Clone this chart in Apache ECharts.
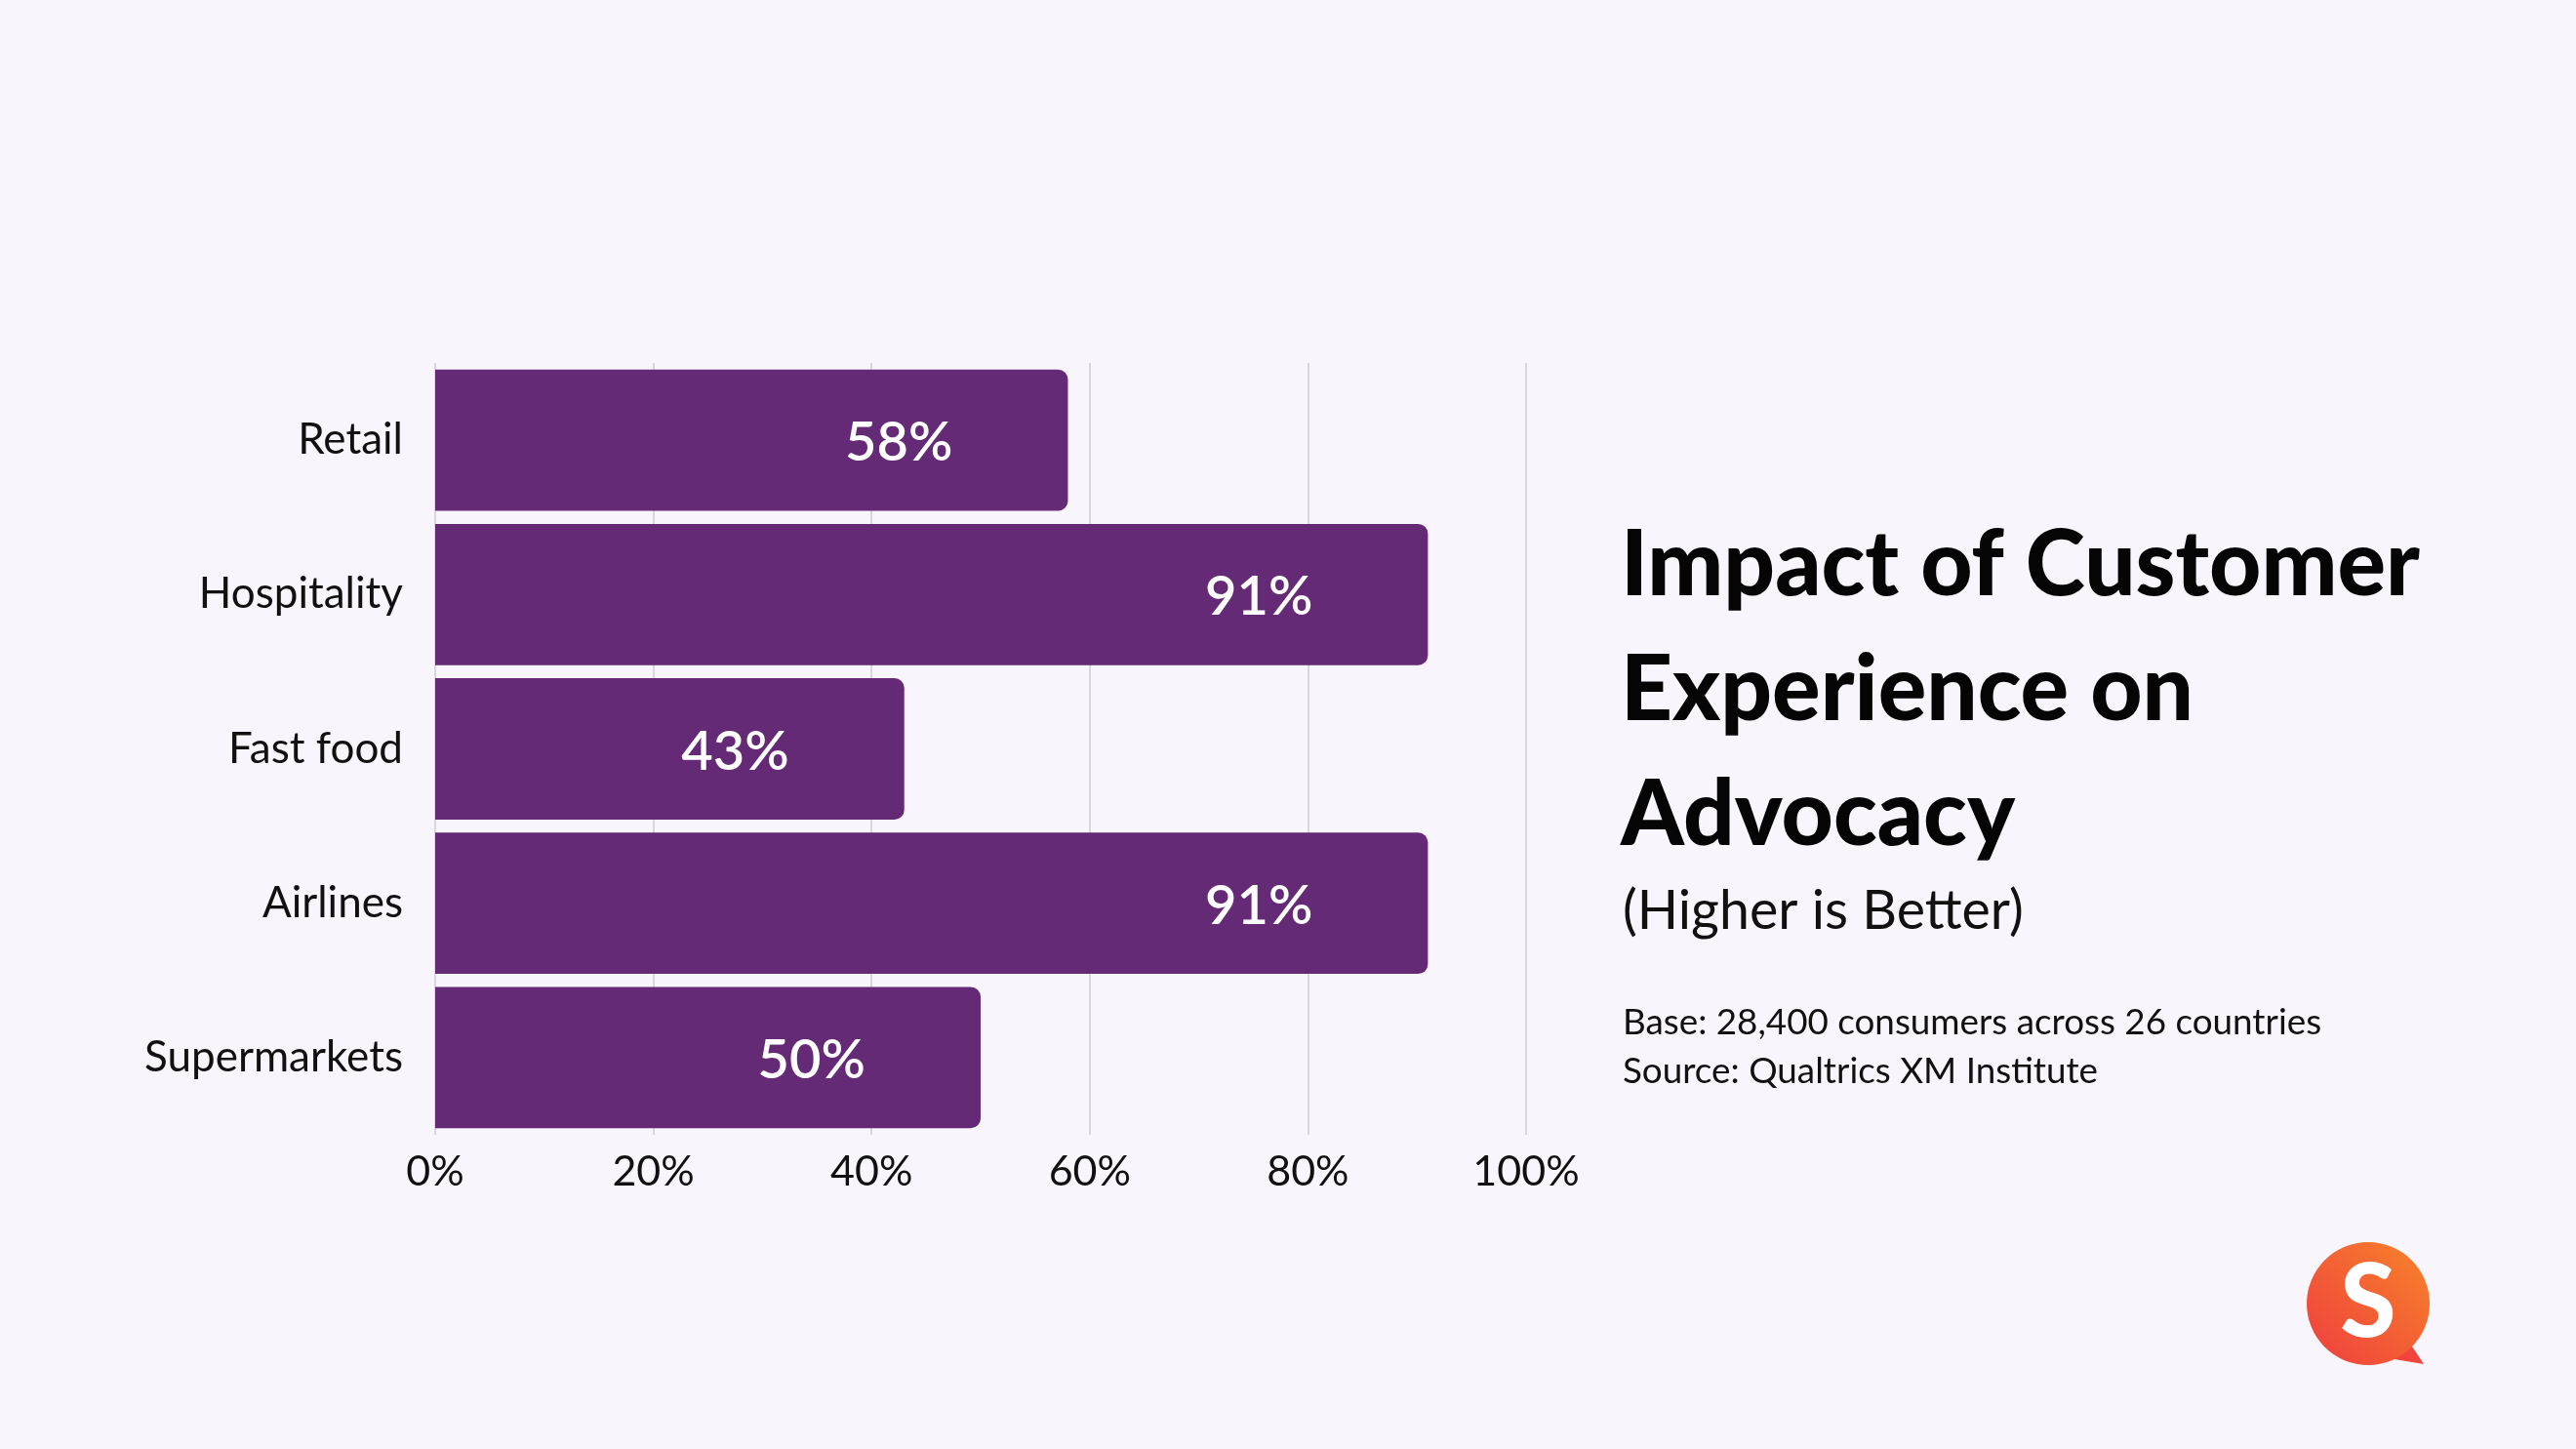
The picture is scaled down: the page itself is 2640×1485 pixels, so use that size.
<!DOCTYPE html>
<html>
<head>
<meta charset="utf-8">
<script src="https://cdn.jsdelivr.net/npm/echarts@6/dist/echarts.min.js"></script>
<style>
html,body{margin:0;padding:0;background:#F8F6FC;}
#chart{width:2640px;height:1485px;}
</style>
</head>
<body>
<div id="chart"></div>
<script>
const categories = ['Retail', 'Hospitality', 'Fast food', 'Airlines', 'Supermarkets'];
const values = [58, 91, 43, 91, 50];
const tickValues = [0, 20, 40, 60, 80, 100];
const titleLines = ['Impact of Customer', 'Experience on', 'Advocacy'];
const subtitle = '(Higher is Better)';
const notes = ['Base: 28,400 consumers across 26 countries', 'Source: Qualtrics XM Institute'];

const FONT = 'Lato, "Noto Sans", sans-serif';
const chart = echarts.init(document.getElementById('chart'), null, {renderer: 'canvas'});

chart.setOption({
  backgroundColor: '#F8F6FC',
  animation: false,
  title: [
    {
      text: titleLines.join('\n'),
      left: 1656, top: 511,
      textStyle: {fontFamily: FONT, fontSize: 92.5, fontWeight: 900, color: '#050505', lineHeight: 128}
    },
    {
      text: subtitle,
      left: 1658, top: 897,
      textStyle: {fontFamily: FONT, fontSize: 55.5, fontWeight: 'normal', color: '#111', lineHeight: 64}
    },
    {
      text: notes.join('\n'),
      left: 1658, top: 1018,
      textStyle: {fontFamily: FONT, fontSize: 36.8, fontWeight: 'normal', color: '#111', lineHeight: 50}
    }
  ],
  grid: {left: 446, top: 372, width: 1118, height: 791, containLabel: false},
  xAxis: {
    type: 'value',
    min: 0, max: 100, interval: 20,
    axisLine: {show: false},
    axisTick: {show: false},
    splitLine: {show: true, lineStyle: {color: '#cfcdd3', width: 1.5}},
    axisLabel: {
      margin: 17,
      fontFamily: FONT, fontSize: 43, color: '#111',
      formatter: v => tickValues.includes(v) ? v + '%' : ''
    }
  },
  yAxis: {
    type: 'category',
    data: categories,
    inverse: true,
    axisLine: {show: false},
    axisTick: {show: false},
    axisLabel: {margin: 33, fontFamily: FONT, fontSize: 44, color: '#111'}
  },
  series: [{
    type: 'bar',
    data: values,
    barCategoryGap: '8.5%',
    itemStyle: {color: '#652A76', borderRadius: [0, 10, 10, 0]},
    label: {
      show: true,
      position: 'insideRight',
      distance: 118,
      formatter: p => p.value + '%',
      fontFamily: FONT, fontSize: 56, fontWeight: 600, color: '#ffffff',
      offset: [0, 3]
    }
  }],
  graphic: [
    {
      type: 'group',
      left: 2364, top: 1273,
      children: [
        {
          type: 'polygon',
          shape: {points: [[106, 104], [120, 125], [84, 119]]},
          style: {fill: '#F0443D'}
        },
        {
          type: 'circle',
          shape: {cx: 63, cy: 63, r: 63},
          style: {
            fill: new echarts.graphic.LinearGradient(1, 0, 0, 1, [
              {offset: 0, color: '#F7832A'},
              {offset: 1, color: '#EF3E3F'}
            ])
          }
        },
        {
          type: 'text',
          x: 63, y: 63,
          style: {
            text: 'S', fill: '#ffffff',
            font: '900 104px Lato, "Noto Sans", sans-serif',
            textAlign: 'center', textVerticalAlign: 'middle'
          }
        }
      ]
    }
  ]
});
</script>
</body>
</html>
